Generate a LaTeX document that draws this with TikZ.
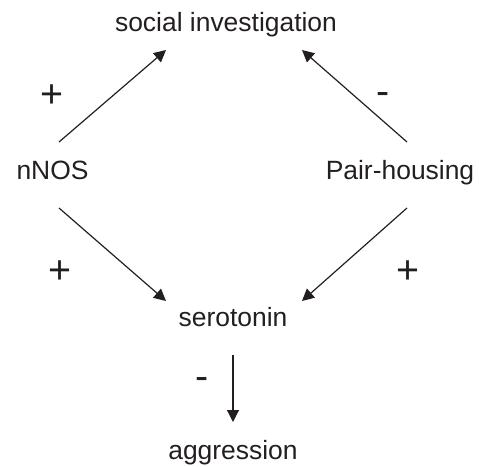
\documentclass[tikz,border=0pt]{standalone}
\usepackage{fontspec}
\setmainfont{Liberation Sans}
\usetikzlibrary{arrows.meta,calc,positioning}
\definecolor{ink}{HTML}{231F20}
\tikzset{
  term/.style={font=\fontsize{18.8pt}{22pt}\selectfont, text=ink, anchor=base, inner sep=1pt},
  sign/.style={font=\fontsize{28pt}{32pt}\selectfont, text=ink, anchor=base, inner sep=1pt},
  link/.style={draw=ink, line width=0.85pt, -{Triangle[length=8.5pt,width=8.5pt]}}
}
\begin{document}
\begin{tikzpicture}[x=0.025cm,y=-0.025cm]
\useasboundingbox (0,0) rectangle (479,466);
\node[term] (social) at (226,32) {social investigation};
\node[term] (nnos) at (52.5,179) {nNOS};
\node[term] (pair) at (400,179) {Pair-housing};
\node[term] (sero) at (233,326) {serotonin};
\node[term] (aggr) at (233,459) {aggression};
% signs
\node[sign] (plusA) at (52,107) {+};
\node[sign] (minusA) at (383,104) {-};
\node[sign] (plusB) at (60,283) {+};
\node[sign] (plusC) at (408,283) {+};
\node[sign] (minusB) at (202,389) {-};
% arrows
\draw[link] ($(nnos.base)+(6.5,-37)$) -- ($(social.base)+(-60,18)$);
\draw[link] ($(pair.base)+(7,-37)$) -- ($(social.base)+(76,18)$);
\draw[link] ($(nnos.base)+(6.5,29)$) -- ($(sero.base)+(-67,-25)$);
\draw[link] ($(pair.base)+(7,29)$) -- ($(sero.base)+(69,-25)$);
\draw[link] ($(sero.base)+(0,29)$) -- ($(aggr.base)+(0,-37)$);
\end{tikzpicture}
\end{document}
